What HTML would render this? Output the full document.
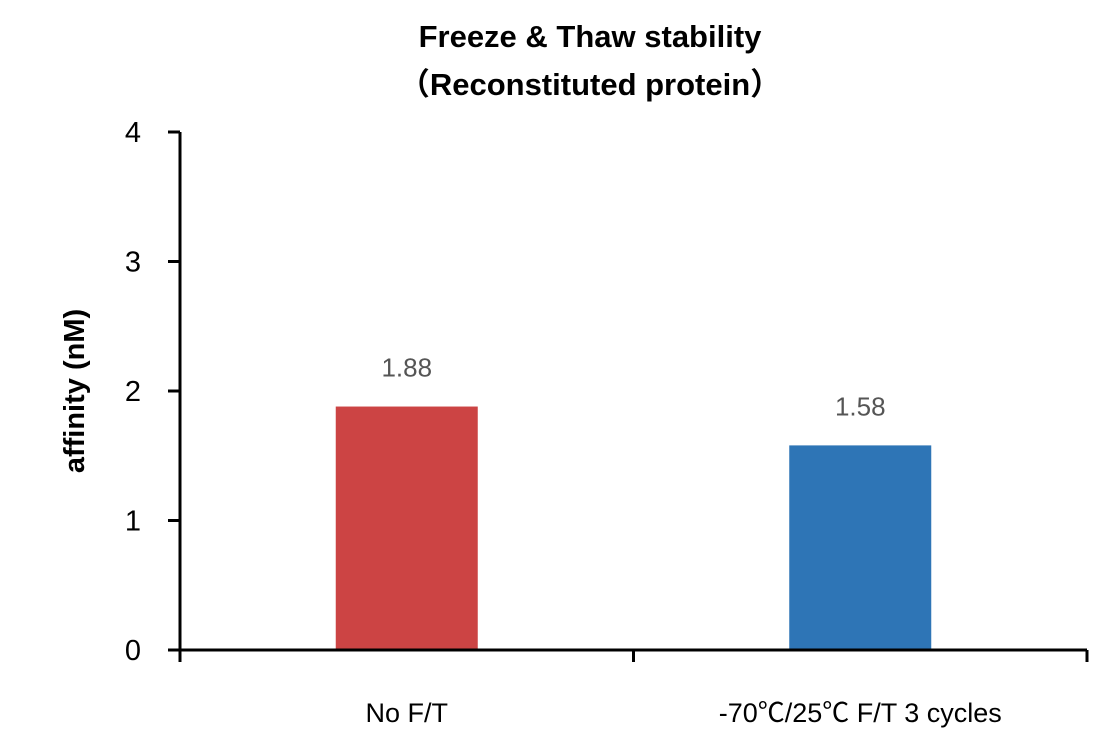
<!DOCTYPE html>
<html><head><meta charset="utf-8"><style>
html,body{margin:0;padding:0;background:#fff;}
svg{display:block;font-family:"Liberation Sans","Noto Sans CJK SC",sans-serif;}
</style></head><body>
<svg id="chart" width="1114" height="739" viewBox="0 0 1114 739" xmlns="http://www.w3.org/2000/svg">
<text x="590" y="47" text-anchor="middle" font-size="31" font-weight="bold" fill="#000">Freeze &amp; Thaw stability</text>
<text x="590" y="95" text-anchor="middle" font-size="31" font-weight="bold" fill="#000">（Reconstituted protein）</text>
<text transform="translate(84,391) rotate(-90)" text-anchor="middle" font-size="29" font-weight="bold" fill="#000">affinity (nM)</text>
<g id="bars"></g>
<g id="axes"></g>
</svg>
<script>
const categories = ["No F/T", "-70℃/25℃ F/T 3 cycles"];
const values = [1.88, 1.58];
const valueLabels = ["1.88", "1.58"];
const colors = ["#CC4444", "#2E75B6"];
const yTicks = [0, 1, 2, 3, 4];

const NS = "http://www.w3.org/2000/svg";
const x0 = 180, x1 = 1087, yBase = 650, yTop = 132, yMax = 4;
const yScale = v => yBase - (v / yMax) * (yBase - yTop);
const band = (x1 - x0) / categories.length;
const xCenter = i => x0 + band * (i + 0.5);
const barW = 142;

function mk(tag, attrs, parent) {
  const el = document.createElementNS(NS, tag);
  for (const k in attrs) el.setAttribute(k, attrs[k]);
  parent.appendChild(el);
  return el;
}
const bars = document.getElementById("bars");
const axes = document.getElementById("axes");

categories.forEach((c, i) => {
  const r = mk("rect", {x: xCenter(i) - barW / 2, y: yScale(values[i]), width: barW, height: yBase - yScale(values[i]), fill: colors[i]}, bars);
  
  
  const t = mk("text", {x: xCenter(i), y: yScale(values[i]) - 30, "text-anchor": "middle", "font-size": "26", fill: "#555"}, bars);
  t.textContent = valueLabels[i];
  
  
  const l = mk("text", {x: xCenter(i), y: 722, "text-anchor": "middle", "font-size": "27", fill: "#000"}, axes);
  l.textContent = c;
  
  
});

const ya = mk("line", {x1: x0, y1: yTop, x2: x0, y2: yBase + 12, stroke: "#000", "stroke-width": 3}, axes);


const xa = mk("line", {x1: x0 - 12, y1: yBase, x2: x1, y2: yBase, stroke: "#000", "stroke-width": 3}, axes);



yTicks.forEach(v => {
  const tk = mk("line", {x1: x0 - 12, y1: yScale(v), x2: x0, y2: yScale(v), stroke: "#000", "stroke-width": 3}, axes);
  
  
  const tl = mk("text", {x: 141, y: yScale(v) + 10, "text-anchor": "end", "font-size": "29", fill: "#000"}, axes);
  tl.textContent = String(v);
  
  
});
for (let i = 1; i <= categories.length; i++) {
  const xt = x0 + band * i;
  const tk = mk("line", {x1: xt, y1: yBase, x2: xt, y2: yBase + 12, stroke: "#000", "stroke-width": 3}, axes);
  
  
}
</script>
</body></html>
